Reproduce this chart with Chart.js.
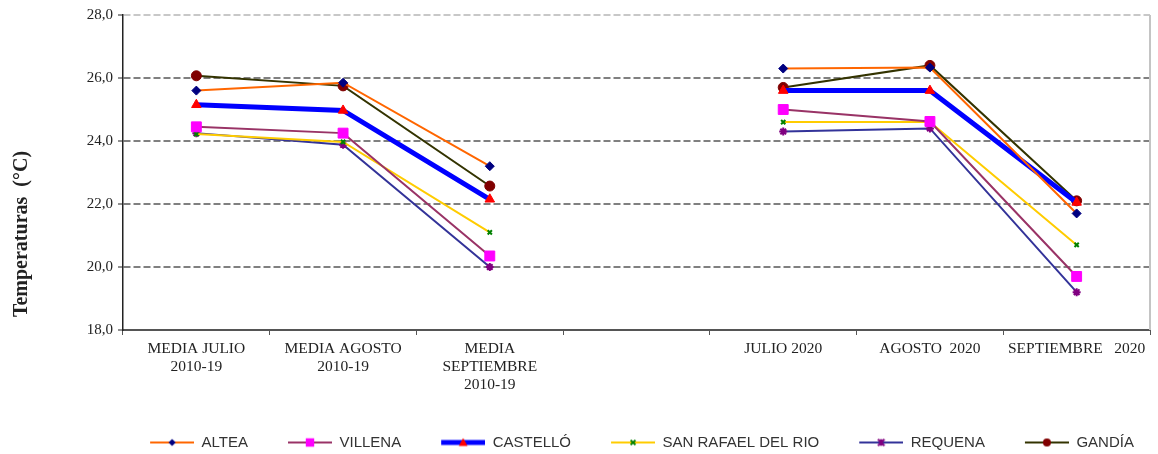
<!DOCTYPE html>
<html lang="es">
<head>
<meta charset="utf-8">
<title>Temperaturas</title>
<script src="https://cdn.jsdelivr.net/npm/chart.js@4.4.1/dist/chart.umd.min.js"></script>
<style>
  html, body { margin: 0; padding: 0; background: #fff; }
  #caja { width: 1158px; height: 454px; }
</style>
</head>
<body>
<div id="caja"><canvas id="grafico"></canvas></div>
<script>
// Datos
const categorias = [
  ["MEDIA JULIO", "2010-19"],
  ["MEDIA AGOSTO", "2010-19"],
  ["MEDIA", "SEPTIEMBRE", "2010-19"],
  "",
  "JULIO 2020",
  "AGOSTO  2020",
  "SEPTIEMBRE   2020"
];
const altea      = [25.6, 25.85, 23.2, null, 26.3, 26.33, 21.7];
const villena    = [24.45, 24.25, 20.35, null, 25.0, 24.62, 19.7];
const castello   = [25.15, 24.97, 22.15, null, 25.6, 25.6, 22.05];
const sanRafael  = [24.22, 23.97, 21.1, null, 24.6, 24.6, 20.7];
const requena    = [24.25, 23.88, 20.0, null, 24.3, 24.4, 19.2];
const gandia     = [26.07, 25.75, 22.57, null, 25.7, 26.4, 22.1];
const ticksY = [18, 20, 22, 24, 26, 28];

// Estilo de cada serie
const series = [
  { nombre: "ALTEA", datos: altea, linea: "#FF6600", ancho: 2, punto: "rectRot", radio: 4.5, relleno: "#000080", borde: "#000080" },
  { nombre: "VILLENA", datos: villena, linea: "#993366", ancho: 2, punto: "rect", radio: 7, relleno: "#FF00FF", borde: "#FF00FF" },
  { nombre: "CASTELLÓ", datos: castello, linea: "#0000FF", ancho: 5, punto: "triangle", radio: 5.5, relleno: "#FF0000", borde: "#FF0000" },
  { nombre: "SAN RAFAEL DEL RIO", datos: sanRafael, linea: "#FFCC00", ancho: 2, punto: "crossRot", radio: 3, relleno: "#008000", borde: "#008000" },
  { nombre: "REQUENA", datos: requena, linea: "#333399", ancho: 2, punto: "star", radio: 4, relleno: "#800080", borde: "#800080" },
  { nombre: "GANDÍA", datos: gandia, linea: "#333300", ancho: 2, punto: "circle", radio: 5, relleno: "#800000", borde: "#800000" }
];

// Icono de leyenda: hueco, línea y marcador en medio
const ANCHO_ICONO = 76;
function icono(s) {
  const c = document.createElement("canvas");
  c.width = ANCHO_ICONO; c.height = 14;
  const g = c.getContext("2d");
  g.strokeStyle = s.linea;
  g.lineWidth = s.ancho;
  g.beginPath(); g.moveTo(ANCHO_ICONO - 44, 7); g.lineTo(ANCHO_ICONO, 7); g.stroke();
  const x = ANCHO_ICONO - 22, y = 7, r = s.radio * 0.8;
  g.fillStyle = s.relleno;
  g.strokeStyle = s.borde;
  g.lineWidth = 2;
  g.beginPath();
  if (s.punto === "rectRot") {
    g.moveTo(x, y - r); g.lineTo(x + r, y); g.lineTo(x, y + r); g.lineTo(x - r, y); g.closePath(); g.fill();
  } else if (s.punto === "rect") {
    const h = r * 0.75; g.fillRect(x - h, y - h, 2 * h, 2 * h);
  } else if (s.punto === "triangle") {
    g.moveTo(x, y - r); g.lineTo(x + r, y + r * 0.8); g.lineTo(x - r, y + r * 0.8); g.closePath(); g.fill();
  } else if (s.punto === "crossRot") {
    g.moveTo(x - r, y - r); g.lineTo(x + r, y + r); g.moveTo(x + r, y - r); g.lineTo(x - r, y + r); g.stroke();
  } else if (s.punto === "star") {
    g.moveTo(x - r, y - r); g.lineTo(x + r, y + r); g.moveTo(x + r, y - r); g.lineTo(x - r, y + r);
    g.moveTo(x, y - r); g.lineTo(x, y + r); g.stroke();
  } else {
    g.arc(x, y, r, 0, Math.PI * 2); g.fill();
  }
  return c;
}
const iconos = series.map(icono);

// Marco derecho, título del eje Y y desplazamiento de la leyenda
const DESPLAZA_LEYENDA = 50;
const marco = {
  id: "marco",
  afterLayout(chart) {
    if (chart.legend) {
      chart.legend.left += DESPLAZA_LEYENDA;
      chart.legend.right += DESPLAZA_LEYENDA;
    }
  },
  beforeDatasetsDraw(chart) {
    const a = chart.chartArea, ctx = chart.ctx;
    ctx.save();
    ctx.strokeStyle = "#c4c4c4";
    ctx.lineWidth = 2;
    ctx.beginPath(); ctx.moveTo(a.right, a.top); ctx.lineTo(a.right, a.bottom); ctx.stroke();
    ctx.restore();
  },
  afterDraw(chart) {
    const ctx = chart.ctx;
    ctx.save();
    ctx.translate(22, 234);
    ctx.rotate(-Math.PI / 2);
    ctx.font = "bold 20px 'Liberation Serif', 'Times New Roman', serif";
    ctx.fillStyle = "#222";
    ctx.textAlign = "center";
    ctx.textBaseline = "middle";
    ctx.fillText("Temperaturas  (°C)", 0, 0);
    ctx.restore();
  }
};

const ctx = document.getElementById("grafico").getContext("2d");
new Chart(ctx, {
  type: "line",
  data: {
    labels: categorias,
    datasets: series.map(s => ({
      label: s.nombre,
      data: s.datos,
      borderColor: s.linea,
      borderWidth: s.ancho,
      backgroundColor: s.relleno,
      pointStyle: s.punto,
      pointRadius: s.radio,
      pointBackgroundColor: s.relleno,
      pointBorderColor: s.borde,
      pointBorderWidth: (s.punto === "crossRot" || s.punto === "star") ? 2 : 1,
      spanGaps: false,
      tension: 0
    }))
  },
  options: {
    responsive: true,
    maintainAspectRatio: false,
    animation: false,
    layout: { padding: { left: 0, right: 6, top: 15, bottom: -6 } },
    plugins: {
      tooltip: { enabled: false },
      legend: {
        position: "bottom",
        labels: {
          usePointStyle: true,
          pointStyleWidth: ANCHO_ICONO,
          padding: 8,
          color: "#333",
          font: { family: "'Liberation Sans', Arial, sans-serif", size: 15 },
          generateLabels(chart) {
            const base = Chart.defaults.plugins.legend.labels.generateLabels(chart);
            return base.map(it => ({ ...it, pointStyle: iconos[it.datasetIndex] }));
          }
        }
      }
    },
    scales: {
      x: {
        offset: true,
        afterFit(scale) { scale.height = 97; },
        grid: { offset: true, drawOnChartArea: false, tickLength: 5, color: "#555", lineWidth: 1 },
        border: { color: "#555", width: 2 },
        ticks: {
          color: "#222",
          padding: 5,
          maxRotation: 0,
          autoSkip: false,
          font: { family: "'Liberation Serif', 'Times New Roman', serif", size: 15.5, lineHeight: 1.16 }
        }
      },
      y: {
        min: 18,
        max: 28,
        afterFit(scale) { scale.width = 123; },
        afterBuildTicks(scale) { scale.ticks = ticksY.map(v => ({ value: v })); },
        grid: {
          drawOnChartArea: true,
          tickLength: 5,
          lineWidth: 2,
          tickWidth: 1,
          tickColor: "#222",
          tickBorderDash: [],
          color: c => c.tick.value === 18 ? "rgba(0,0,0,0)" : (c.tick.value === 28 ? "#c8c8c8" : "#808080")
        },
        border: { color: "#222", width: 1.5, dash: [7, 3] },
        ticks: {
          color: "#222",
          padding: 5,
          font: { family: "'Liberation Serif', 'Times New Roman', serif", size: 15 },
          callback: v => v.toFixed(1).replace(".", ",")
        }
      }
    }
  },
  plugins: [marco]
});
</script>
</body>
</html>
